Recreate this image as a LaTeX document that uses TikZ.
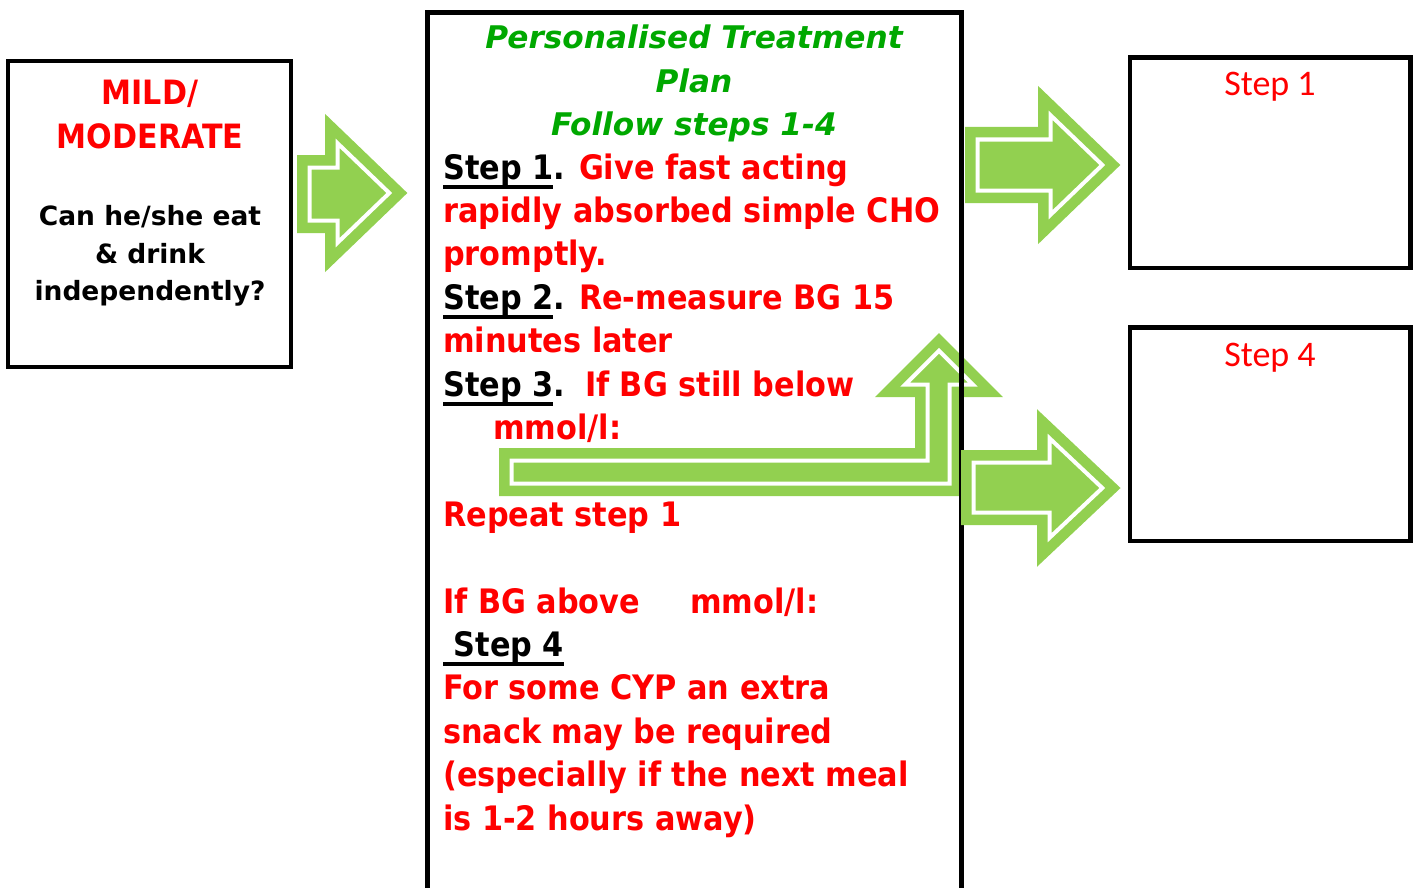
\documentclass[tikz,border=0pt]{standalone}
\usepackage{fontspec}
\setmainfont{DejaVu Sans}
\IfFontExistsTF{DejaVu Sans Condensed}
  {\newfontfamily\condfont{DejaVu Sans Condensed}}
  {\newfontfamily\condfont[FakeStretch=0.9]{DejaVu Sans}}
\newfontfamily\calfont{Carlito}
\usepackage{tikz}

\definecolor{alertred}{RGB}{255,0,0}
\definecolor{plangreen}{RGB}{0,168,0}
\definecolor{arrowgreen}{RGB}{146,208,80}

% underlined step label
\newcommand\stepline[1]{\setbox0\hbox{#1}\rlap{\rule[-10pt]{\wd0}{4pt}}\box0}

% block arrow: outer tail x, shaft top, shaft bottom, head x, head top, head bottom, tip x, mid y
\def\arin{12.5}
\def\arins{17.7}
\def\arind{30.2}
\newcommand\rightblock[8]{%
  \filldraw[blockarrow] ({#1+\arin},{#2+\arin}) -- ({#4+\arin},{#2+\arin})
    -- ({#4+\arin},{#5+\arind}) -- ({#7-\arins},#8) -- ({#4+\arin},{#6-\arind})
    -- ({#4+\arin},{#3-\arin}) -- ({#1+\arin},{#3-\arin}) -- cycle;}

\begin{document}
\begin{tikzpicture}[
    x=1pt, y=-1pt,
    box/.style={draw, line width=4.5pt, inner sep=0pt, outer sep=0pt},
    redhead/.style={text=alertred, font=\condfont\bfseries\fontsize{33.5}{40}\selectfont, inner sep=0pt, anchor=base},
    question/.style={font=\bfseries\fontsize{26.5}{30}\selectfont, inner sep=0pt, anchor=base},
    title/.style={text=plangreen, font=\bfseries\itshape\fontsize{31.2}{40}\selectfont, inner sep=0pt, anchor=base},
    plan/.style={anchor=base west, font=\condfont\bfseries\fontsize{33.7}{43.4}\selectfont, inner sep=0pt},
    alert/.style={plan, text=alertred},
    steplabel/.style={text=alertred, font=\calfont\fontsize{36}{40}\selectfont, inner sep=0pt, anchor=base},
    blockarrow/.style={fill=arrowgreen, draw=arrowgreen, double=white, double distance=4pt, line width=10.5pt, line join=miter}
]
    \useasboundingbox (0,0) rectangle (1418,888);

    % Repeat arrow (back up to step 2)
    \filldraw[blockarrow] (511.5,483.5) -- (511.5,460.5) -- (927.5,460.5) -- (927.5,384.5)
        -- (905.2,384.5) -- (939,350.7) -- (972.8,384.5) -- (949.5,384.5)
        -- (949.5,483.5) -- cycle;

    % Treatment plan frame (runs off the bottom)
    \draw[line width=5pt] (427.5,900) -- (427.5,12.5) -- (961,12.5) -- (961,900);

    % Arrows between boxes
    \rightblock{297}{155}{233}{325}{113}{273}{407}{193}
    \rightblock{965}{127}{203}{1038}{85}{245}{1120}{165}
    \rightblock{961}{450}{525}{1037}{408}{568}{1120}{488}

    % Mild / moderate box
    \node[box, line width=4pt, minimum width=283pt, minimum height=306pt] (mild) at (149.5,214) {};
    \node[redhead] (mildA) at (150,105) {MILD/};
    \node[redhead] (mildB) at (150,149) {MODERATE};
    \node[question] (askA) at (150,225) {Can he/she eat};
    \node[question] (askB) at (150,263) {\& drink};
    \node[question] (askC) at (150,300) {independently?};

    % Plan title
    \node[title] (titleA) at (694,48.8) {Personalised Treatment};
    \node[title] (titleB) at (694,92.2) {Plan};
    \node[title] (titleC) at (694,135.6) {Follow steps 1-4};

    % Plan steps
    \node[plan] (stepA) at (443,179) {\stepline{Step 1}. \textcolor{alertred}{Give fast acting}};
    \node[alert] (stepAb) at (443,222.4) {rapidly absorbed simple CHO};
    \node[alert] (stepAc) at (443,265.8) {promptly.};
    \node[plan] (stepB) at (443,309.2) {\stepline{Step 2}. \textcolor{alertred}{Re-measure BG 15}};
    \node[alert] (stepBb) at (443,352.6) {minutes later};
    \node[plan] (stepC) at (443,396) {\stepline{Step 3}.\hspace{6pt} \textcolor{alertred}{If BG still below}};
    \node[alert] (stepCb) at (493,439.4) {mmol/l:};
    \node[alert] (repeat) at (443,526.2) {Repeat step 1};
    \node[alert] (aboveA) at (443,613) {If BG above};
    \node[alert] (aboveB) at (690,613) {mmol/l:};
    \node[plan] (stepD) at (443,656.4) {\stepline{\ Step 4}};
    \node[alert] (stepDb) at (443,699.8) {For some CYP an extra};
    \node[alert] (stepDc) at (443,743.2) {snack may be required};
    \node[alert] (stepDd) at (443,786.6) {(especially if the next meal};
    \node[alert] (stepDe) at (443,830) {is 1-2 hours away)};

    % Step boxes
    \node[box, minimum width=280.5pt, minimum height=210.5pt] (stepone) at (1270.25,162.75) {};
    \node[steplabel] (stepone label) at (1270,96) {Step 1};
    \node[box, minimum width=280.5pt, minimum height=213.5pt] (stepfour) at (1270.25,434.25) {};
    \node[steplabel] (stepfour label) at (1270,366) {Step 4};

\end{tikzpicture}
\end{document}
